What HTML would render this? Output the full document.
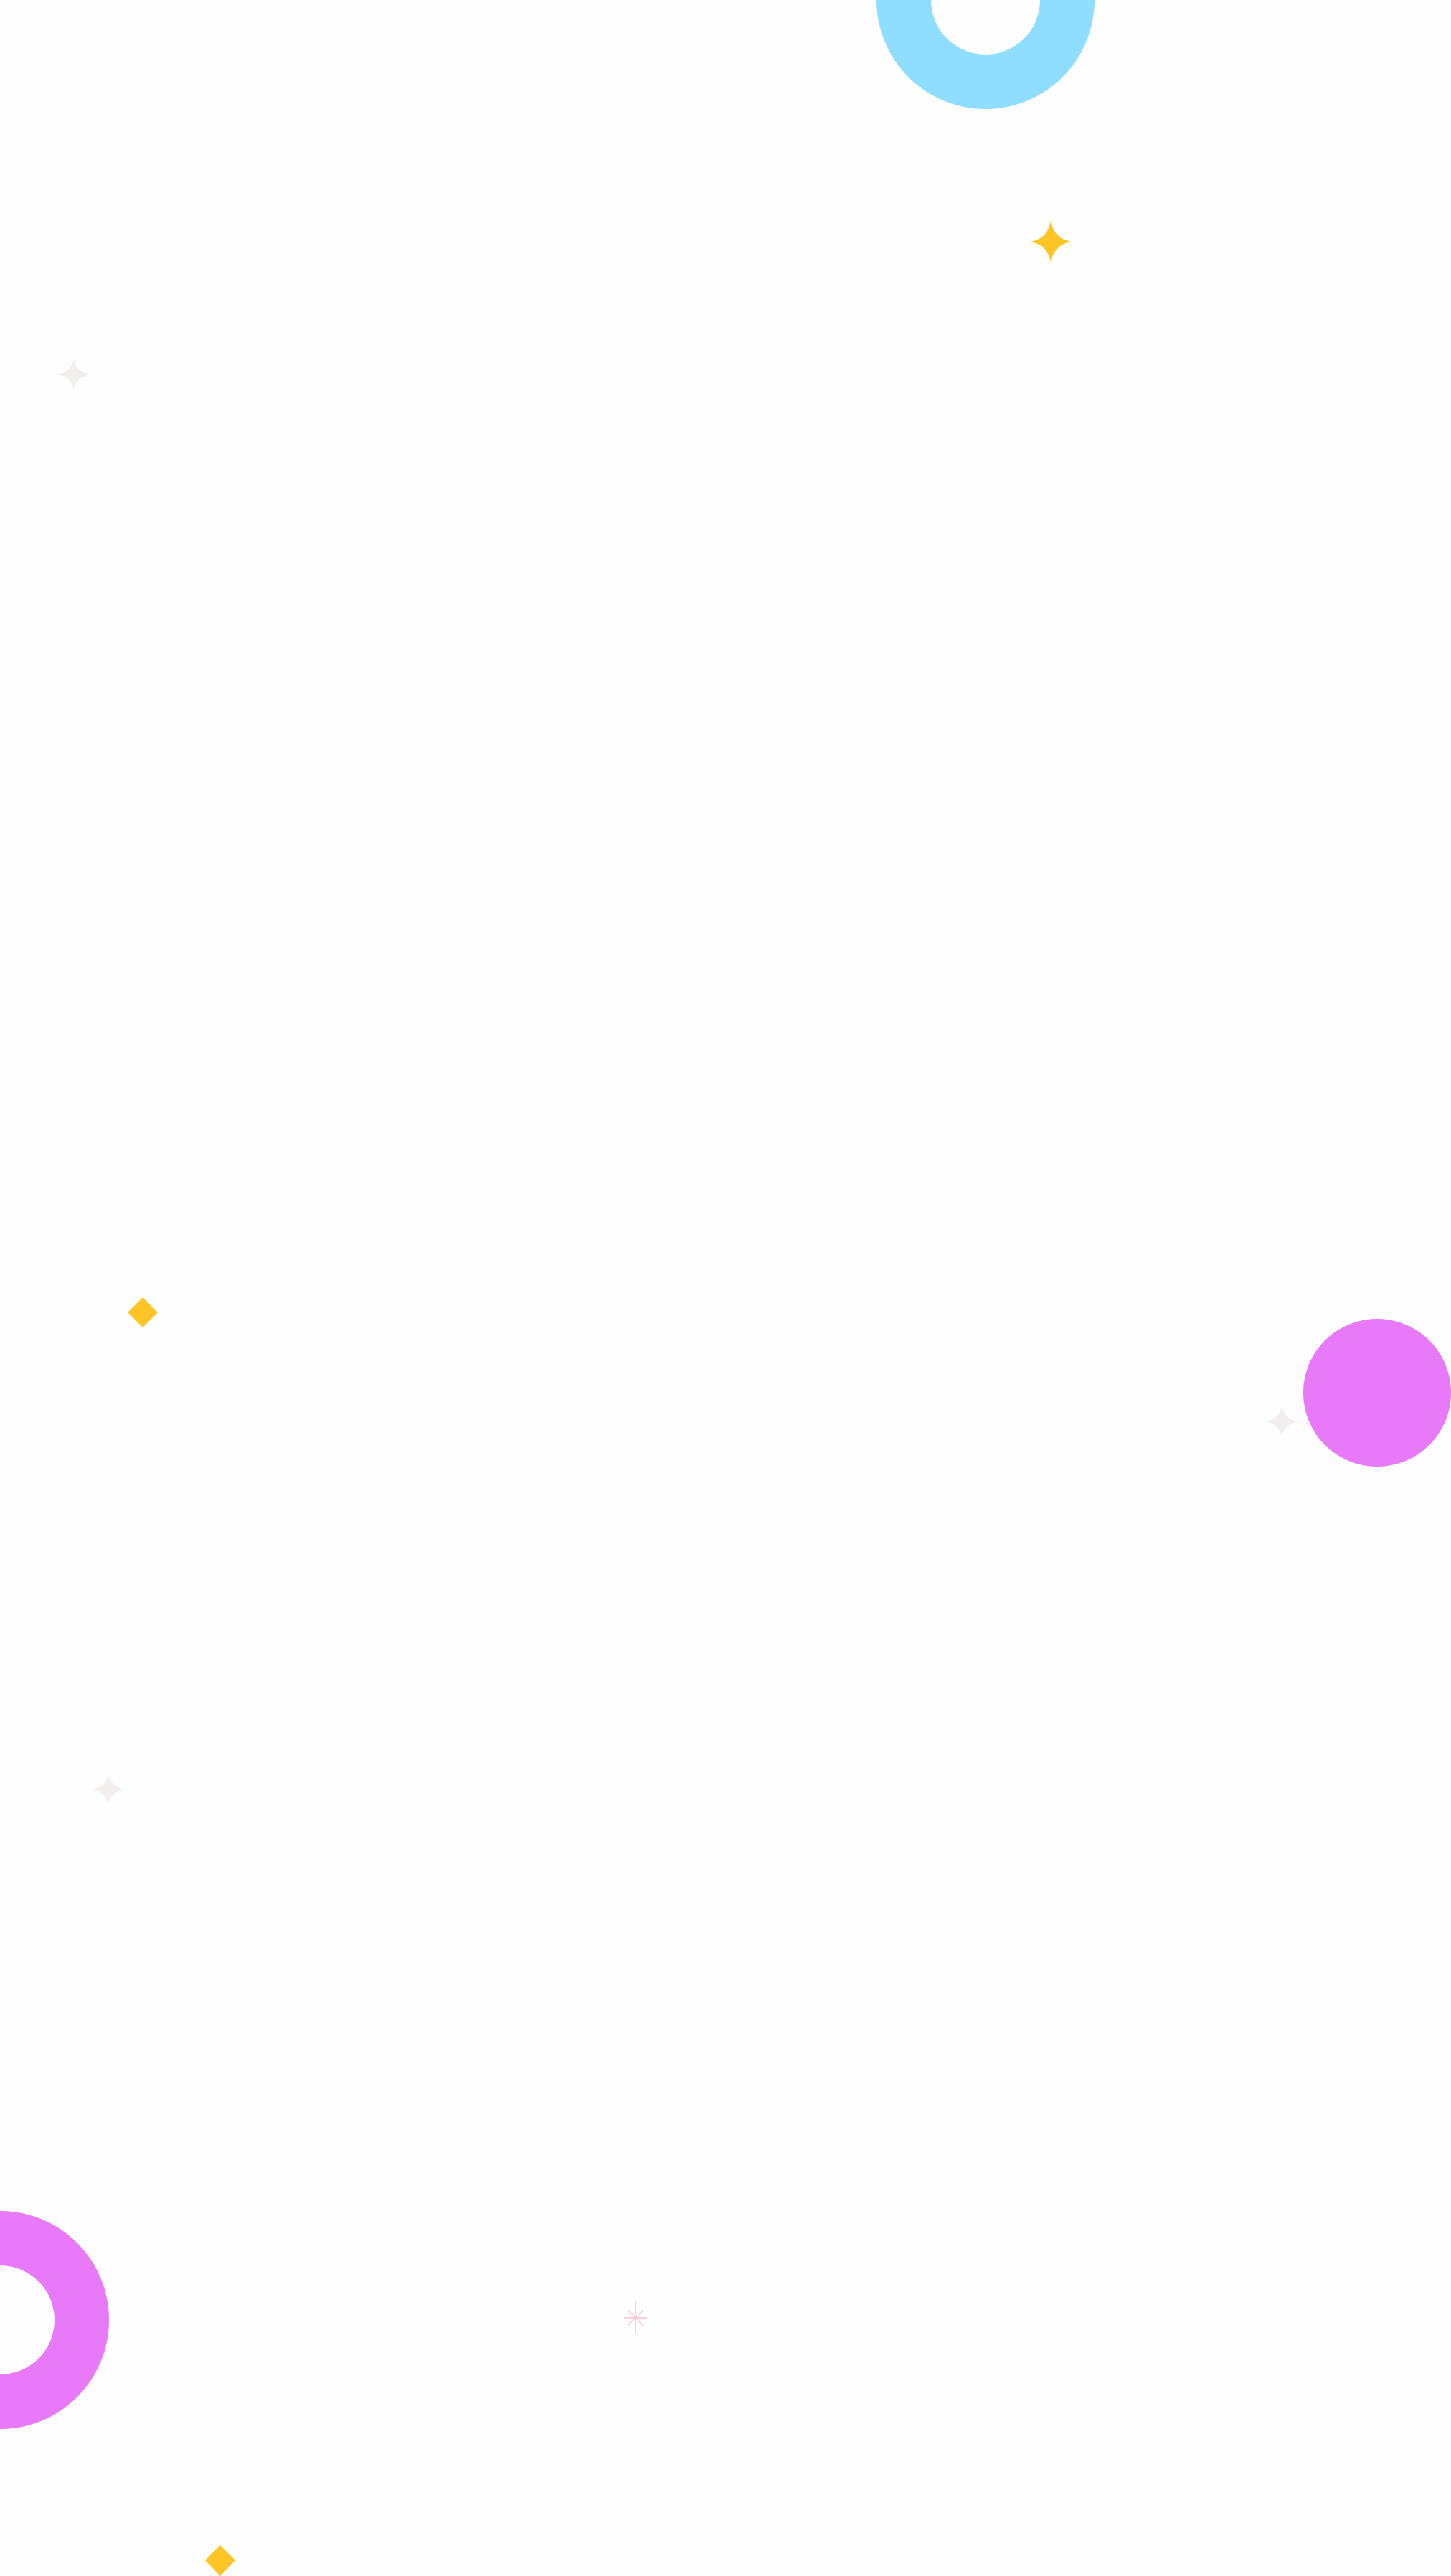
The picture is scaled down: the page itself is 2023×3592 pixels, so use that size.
<!DOCTYPE html>
<html><head><meta charset="utf-8"><style>
html,body{margin:0;padding:0;background:#fefefe;}
svg{display:block}
</style></head><body>
<svg width="2023" height="3592" viewBox="0 0 2023 3592" xmlns="http://www.w3.org/2000/svg">
<rect width="2023" height="3592" fill="#fefefe"/>
<circle cx="1374" cy="0" r="114" fill="none" stroke="#90DEFF" stroke-width="76"/>
<path d="M1465 307 Q1469 333 1494 337 Q1469 341 1465 367 Q1461 341 1436 337 Q1461 333 1465 307Z" fill="#FFC527"/>
<path d="M103 500 Q106 519 127 522 Q106 525 103 544 Q100 525 79 522 Q100 519 103 500Z" fill="#f3eeee"/>
<path d="M1787 1960 Q1790 1979 1811 1982 Q1790 1985 1787 2004 Q1784 1985 1763 1982 Q1784 1979 1787 1960Z" fill="#f3eeee"/>
<path d="M151 2473 Q154 2492 175 2495 Q154 2498 151 2517 Q148 2498 127 2495 Q148 2492 151 2473Z" fill="#f3eeee"/>
<path d="M199 1809 L220 1830 L199 1851 L178 1830Z" fill="#FFC527"/>
<circle cx="1920" cy="1942" r="103" fill="#E879F9"/>
<circle cx="0" cy="3235" r="114" fill="none" stroke="#E879F9" stroke-width="76"/>
<g stroke="#F7C2D4" stroke-width="1.5">
<line x1="886" y1="3209" x2="886" y2="3255"/>
<line x1="870" y1="3232" x2="902" y2="3232"/>
<line x1="875" y1="3221" x2="897" y2="3243"/>
<line x1="897" y1="3221" x2="875" y2="3243"/>
</g>
<path d="M307 3549 L328 3570 L307 3592 L286 3570Z" fill="#FFC527"/>
</svg>
</body></html>
